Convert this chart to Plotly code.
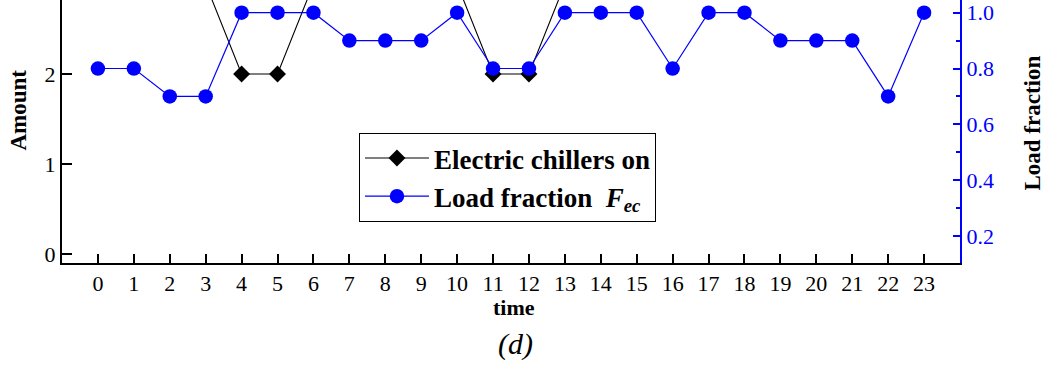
import plotly.graph_objects as go

hours = list(range(24))
chillers_on = [3, 3, 3, 3, 2, 2, 3, 3, 3, 3, 3, 2, 2, 3, 3, 3, 3, 3, 3, 3, 3, 3, 3, 3]
load_fraction = [0.8, 0.8, 0.7, 0.7, 1.0, 1.0, 1.0, 0.9, 0.9, 0.9, 1.0, 0.8, 0.8,
                 1.0, 1.0, 1.0, 0.8, 1.0, 1.0, 0.9, 0.9, 0.9, 0.7, 1.0]
x_ticks = list(range(24))

FONT = "Liberation Serif"

fig = go.Figure()
fig.add_trace(go.Scatter(
    x=hours, y=chillers_on, mode="lines+markers",
    name="<b>Electric chillers on</b>",
    line=dict(color="black", width=1.1),
    marker=dict(symbol="diamond", size=13, color="black", line=dict(width=0)),
    yaxis="y",
))
fig.add_trace(go.Scatter(
    x=hours, y=load_fraction, mode="lines+markers",
    name="<b>Load fraction&nbsp;&nbsp;<i>F</i><sub><i>ec</i></sub></b>",
    line=dict(color="#0000FF", width=1.2),
    marker=dict(symbol="circle", size=14.5, color="#0000FF", line=dict(width=0)),
    yaxis="y2",
))

fig.update_layout(
    width=1046, height=383,
    margin=dict(l=62, r=86, t=0, b=120),
    paper_bgcolor="white", plot_bgcolor="white",
    font=dict(family=FONT, size=22, color="black"),
    showlegend=True,
    legend=dict(
        x=0.3307, y=0.4943, xanchor="left", yanchor="top",
        bordercolor="black", borderwidth=1, bgcolor="white",
        font=dict(family=FONT, size=27, color="black"),
        itemwidth=64,
    ),
    xaxis=dict(
        range=[-1, 24], tickvals=x_ticks, ticktext=[str(v) for v in x_ticks],
        showline=True, linecolor="black", linewidth=2,
        ticks="inside", ticklen=9, tickwidth=1.8, tickcolor="black",
        showgrid=False, zeroline=False,
        tickfont=dict(family=FONT, size=22, color="black"),
    ),
    yaxis=dict(
        range=[-0.1, 2.822], tickvals=[0, 1, 2], ticktext=["0", "1", "2"],
        showline=True, linecolor="black", linewidth=2,
        ticks="inside", ticklen=10, tickwidth=1.8, tickcolor="black",
        showgrid=False, zeroline=False,
        tickfont=dict(family=FONT, size=22, color="black"),
    ),
    yaxis2=dict(
        range=[0.103, 1.0455], overlaying="y", side="right",
        tickvals=[0.2, 0.4, 0.6, 0.8, 1.0], ticktext=["0.2", "0.4", "0.6", "0.8", "1.0"],
        showline=True, linecolor="#0000FF", linewidth=2,
        ticks="inside", ticklen=7, tickwidth=1.8, tickcolor="#0000FF",
        minor=dict(tickvals=[0.3, 0.5, 0.7, 0.9], ticks="inside", ticklen=4,
                   tickwidth=1.8, tickcolor="#0000FF"),
        showgrid=False, zeroline=False,
        tickfont=dict(family=FONT, size=22, color="#0000FF"),
    ),
    annotations=[
        dict(text="<b>Amount</b>", xref="paper", yref="paper", x=-0.049, y=0.5837,
             xanchor="center", yanchor="middle", textangle=-90, showarrow=False,
             font=dict(family=FONT, size=23, color="black")),
        dict(text="<b>Load fraction</b>", xref="paper", yref="paper", x=1.0802, y=0.5304,
             xanchor="center", yanchor="middle", textangle=-90, showarrow=False,
             font=dict(family=FONT, size=23, color="black")),
        dict(text="<b>time</b>", xref="paper", yref="paper", x=0.503, y=-0.171,
             xanchor="center", yanchor="middle", showarrow=False,
             font=dict(family=FONT, size=22, color="black")),
        dict(text="<i>(d)</i>", xref="paper", yref="paper", x=0.505, y=-0.308,
             xanchor="center", yanchor="middle", showarrow=False,
             font=dict(family=FONT, size=30, color="black")),
    ],
)

fig.write_html("out.html")
